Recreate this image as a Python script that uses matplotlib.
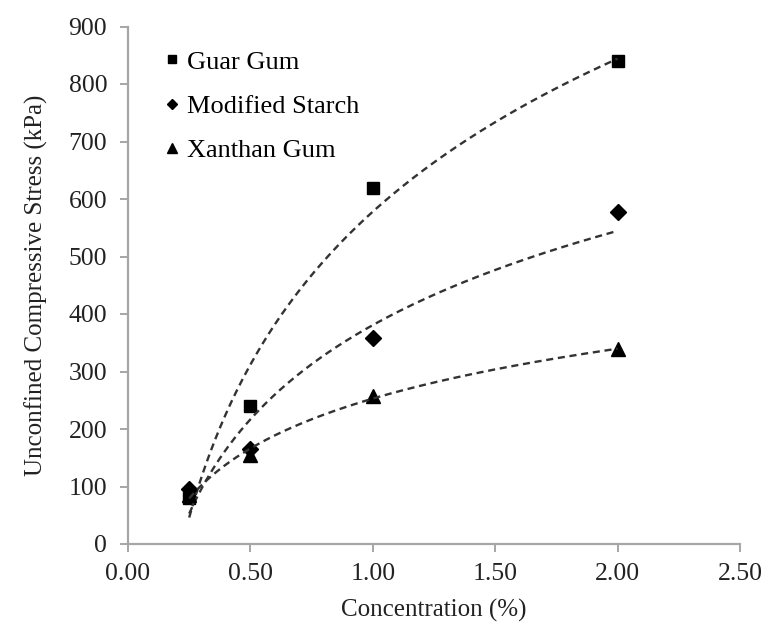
import numpy as np
import matplotlib.pyplot as plt

plt.rcParams['font.family'] = ['Liberation Serif', 'DejaVu Serif']

# Concentration (%) and unconfined compressive stress (kPa)
conc = [0.25, 0.5, 1.0, 2.0]
guar = [80, 240, 620, 840]
starch = [95, 165, 358, 577]
xanthan = [85, 155, 258, 340]

series = [
    ('Guar Gum', guar, 's', 9),
    ('Modified Starch', starch, 'D', 8),
    ('Xanthan Gum', xanthan, '^', 9.5),
]

fig = plt.figure(figsize=(7.72, 6.25), dpi=100)
ax = fig.add_axes([0.1658, 0.1296, 0.7927, 0.828])

x = np.array(conc)
xs = np.linspace(x.min(), x.max(), 200)
for name, y, m, ms in series:
    ax.plot(conc, y, linestyle='none', marker=m, markersize=ms,
            color='black', label=name)
    # logarithmic trend line
    a, b = np.polyfit(np.log(x), np.array(y, dtype=float), 1)
    ax.plot(xs, a * np.log(xs) + b, color='#333333', linestyle=(0, (3, 2)),
            linewidth=1.7)

ax.set_xlim(0, 2.5)
ax.set_ylim(0, 900)
ax.set_xticks(np.arange(0, 2.51, 0.5))
ax.set_xticklabels([f'{v:.2f}' for v in np.arange(0, 2.51, 0.5)])
ax.set_yticks(range(0, 901, 100))

for s in ['top', 'right']:
    ax.spines[s].set_visible(False)
for s in ['left', 'bottom']:
    ax.spines[s].set_color('#a6a6a6')
    ax.spines[s].set_linewidth(1.6)
ax.tick_params(axis='both', colors='#a6a6a6', labelcolor='#222222',
               labelsize=18.5, length=6, width=1.4, direction='out')
ax.tick_params(axis='y', pad=9)
ax.tick_params(axis='x', pad=8)

ax.set_xlabel('Concentration (%)', fontsize=18, color='#222222', labelpad=10)
ax.set_ylabel('Unconfined Compressive Stress (kPa)', fontsize=18,
              color='#222222', labelpad=15)

ax.legend(loc='upper left', bbox_to_anchor=(0.014, 1.0), frameon=False,
          fontsize=19, handletextpad=0.1, handlelength=0.9,
          labelspacing=0.78, markerscale=0.7)

fig.savefig('out.png', dpi=100)
